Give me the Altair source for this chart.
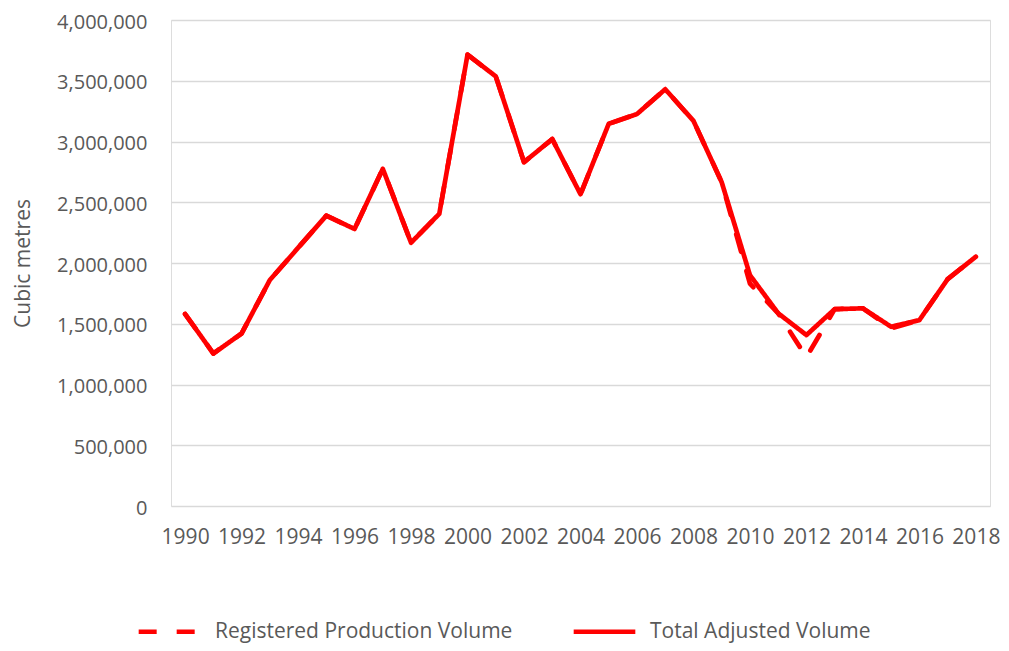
import altair as alt
import pandas as pd

years = list(range(1990, 2019))
total_adjusted = [1580000, 1255000, 1420000, 1860000, 2125000, 2390000, 2280000,
                  2775000, 2167000, 2405000, 3715000, 3536000, 2830000, 3020000,
                  2566000, 3146000, 3226000, 3430000, 3170000, 2665000, 1900000,
                  1586000, 1407000, 1620000, 1627000, 1475000, 1530000, 1867000,
                  2052000]
registered = [1580000, 1255000, 1420000, 1860000, 2125000, 2390000, 2280000,
              2775000, 2167000, 2405000, 3715000, 3536000, 2830000, 3020000,
              2566000, 3146000, 3226000, 3430000, 3170000, 2665000, 1830000,
              1586000, 1225000, 1620000, 1627000, 1462000, 1530000, 1867000,
              2052000]
series_names = ["Registered Production Volume", "Total Adjusted Volume"]
y_ticks = list(range(0, 4000001, 500000))
x_ticks = list(range(1990, 2019, 2))

df = pd.concat([
    pd.DataFrame({"year": years, "value": registered, "series": series_names[0]}),
    pd.DataFrame({"year": years, "value": total_adjusted, "series": series_names[1]}),
])

FONT = "Open Sans"
TXT = "#595959"

chart = alt.Chart(df).mark_line(
    color="#FF0000", strokeWidth=4.7, strokeCap="round", strokeJoin="round"
).encode(
    x=alt.X("year:Q",
            scale=alt.Scale(domain=[1989.5, 2018.5], nice=False, zero=False),
            axis=alt.Axis(values=x_ticks, format="d", grid=False, domain=False,
                          ticks=False, tickSize=0, labelPadding=20, labelFontSize=21,
                          labelColor=TXT, labelFont=FONT, labelFlush=False, title=None)),
    y=alt.Y("value:Q",
            scale=alt.Scale(domain=[0, 4000000], nice=False),
            axis=alt.Axis(values=y_ticks, format=",.0f", grid=True, gridColor="#D9D9D9",
                          gridWidth=1.3, domain=False, ticks=False, tickSize=0,
                          labelPadding=24, labelFontSize=20, labelOffset=2,
                          labelColor=TXT, labelFont=FONT, title="Cubic metres",
                          titleX=-148, titleY=243, titleAngle=270, titleAlign="center",
                          titleBaseline="middle", titleFontSize=21,
                          titleFontWeight="normal", titleColor=TXT, titleFont=FONT)),
    strokeDash=alt.StrokeDash("series:N",
                              scale=alt.Scale(domain=series_names, range=[[18, 20], [1, 0]]),
                              legend=alt.Legend(title=None, orient="none", direction="horizontal",
                                                legendX=-35, legendY=578,
                                                symbolType="stroke", symbolSize=3800,
                                                symbolStrokeWidth=4.7,
                                                symbolStrokeColor="#FF0000",
                                                labelFontSize=21, labelFont=FONT,
                                                labelColor=TXT, labelOffset=12,
                                                columnPadding=51, labelLimit=500)),
    detail="series:N",
).properties(
    width=819, height=486,
    autosize=alt.AutoSizeParams(type="none"),
    padding={"left": 163, "top": 12, "right": 11, "bottom": 137},
).configure_view(stroke=None).configure(font=FONT)

chart.save("out.html", embed_options={"renderer": "svg", "actions": False})
